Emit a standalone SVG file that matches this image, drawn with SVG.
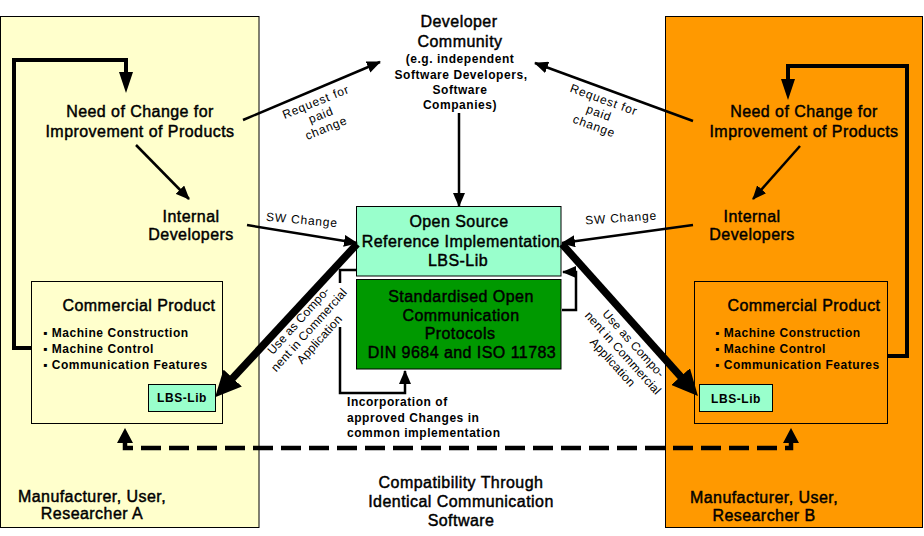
<svg xmlns="http://www.w3.org/2000/svg" width="924" height="536" viewBox="0 0 924 536">
<style>
text{font-family:"Liberation Sans",Arial,sans-serif;fill:#000}
.t{font-size:16px;letter-spacing:.45px;text-anchor:middle;stroke:#000;stroke-width:.45px}
.s{font-size:12px;font-weight:bold;letter-spacing:.55px}
.m{text-anchor:middle}
.r{font-size:12px;letter-spacing:.8px;text-anchor:middle}
.u{font-size:12px;letter-spacing:.2px;text-anchor:middle}
.b{stroke:#000;stroke-width:1}
.c{fill:none;stroke:#000;stroke-width:2.5}
.k{fill:none;stroke:#000;stroke-width:4}
.w{fill:none;stroke:#000;stroke-width:7.5}
.d{fill:none;stroke:#000;stroke-width:4.5;stroke-dasharray:20 8}
</style>
<defs>
<marker id="a" markerUnits="userSpaceOnUse" viewBox="0 0 14 12" markerWidth="14" markerHeight="12" refX="13" refY="6" orient="auto"><path d="M0,0L14,6L0,12z"/></marker>
<marker id="l" markerUnits="userSpaceOnUse" viewBox="0 0 21 14" markerWidth="21" markerHeight="14" refX="15" refY="7" orient="auto"><path d="M0,0L21,7L0,14z"/></marker>
<marker id="g" markerUnits="userSpaceOnUse" viewBox="0 0 26 25" markerWidth="26" markerHeight="25" refX="4" refY="12.5" orient="auto"><path d="M0,0L26,12.5L0,25z"/></marker>
<marker id="q" markerUnits="userSpaceOnUse" viewBox="0 0 15 16" markerWidth="15" markerHeight="16" refX="7" refY="8" orient="auto-start-reverse"><path d="M0,0L15,8L0,16z"/></marker>
</defs>

<g id="panelA">
<rect class="b" x="0.5" y="16.5" width="258.5" height="511" fill="#FFFFCC"/>
<text class="t" x="92" y="502">Manufacturer, User,</text>
<text class="t" x="92" y="519">Researcher A</text>
</g>
<g id="panelB">
<rect class="b" x="665.5" y="16.5" width="257" height="511" fill="#FF9900"/>
<text class="t" x="764" y="503">Manufacturer, User,</text>
<text class="t" x="764" y="521">Researcher B</text>
</g>

<g id="needA"><text class="t" x="140" y="117">Need of Change for</text><text class="t" x="140" y="137">Improvement of Products</text></g>
<g id="needB"><text class="t" x="804" y="117">Need of Change for</text><text class="t" x="804" y="137">Improvement of Products</text></g>
<g id="intA"><text class="t" x="191" y="222">Internal</text><text class="t" x="191" y="240">Developers</text></g>
<g id="intB"><text class="t" x="752" y="222">Internal</text><text class="t" x="752" y="240">Developers</text></g>

<g id="community">
<text class="t" x="459" y="27">Developer</text>
<text class="t" x="460" y="47">Community</text>
<text class="s m" x="460" y="63">(e.g. independent</text>
<text class="s m" x="461" y="79">Software Developers,</text>
<text class="s m" x="460" y="94">Software</text>
<text class="s m" x="460" y="109">Companies)</text>
</g>

<g id="productA">
<rect class="b" x="31.5" y="281.5" width="191" height="142" fill="#FFFFCC"/>
<text class="t" x="139" y="311">Commercial Product</text>
<text class="s" x="43" y="337">▪ Machine Construction</text>
<text class="s" x="43" y="353">▪ Machine Control</text>
<text class="s" x="43" y="369">▪ Communication Features</text>
</g>
<g id="libA">
<rect class="b" x="148.5" y="384.5" width="67" height="27" fill="#99FFCC"/>
<text class="s m" x="182" y="402">LBS-Lib</text>
</g>
<g id="productB">
<rect class="b" x="694.5" y="281.5" width="193" height="142" fill="#FF9900"/>
<text class="t" x="804" y="311">Commercial Product</text>
<text class="s" x="715" y="337">▪ Machine Construction</text>
<text class="s" x="715" y="353">▪ Machine Control</text>
<text class="s" x="715" y="369">▪ Communication Features</text>
</g>
<g id="libB">
<rect class="b" x="699.5" y="384.5" width="73" height="27" fill="#99FFCC"/>
<text class="s m" x="736" y="403">LBS-Lib</text>
</g>

<g id="openSource">
<rect class="b" x="356.5" y="206.5" width="204.5" height="69.5" fill="#99FFCC"/>
<text class="t" x="459" y="227">Open Source</text>
<text class="t" x="461" y="247">Reference Implementation</text>
<text class="t" x="458" y="266">LBS-Lib</text>
</g>
<g id="protocols">
<rect class="b" x="356.5" y="279.5" width="204.5" height="89.5" fill="#009900"/>
<text class="t" x="461" y="302">Standardised Open</text>
<text class="t" x="461" y="321">Communication</text>
<text class="t" x="460" y="339">Protocols</text>
<text class="t" x="462" y="358">DIN 9684 and ISO 11783</text>
</g>

<g id="compat">
<text class="t" x="461" y="488">Compatibility Through</text>
<text class="t" x="461" y="507">Identical Communication</text>
<text class="t" x="461" y="526">Software</text>
</g>

<g id="connectors">
<path class="k" d="M31,348H14V60H126V87" marker-end="url(#l)"/>
<path class="k" d="M887,356H907V66H788V94" marker-end="url(#l)"/>
<path class="c" d="M136,145L189,199" marker-end="url(#a)"/>
<path class="c" d="M800,146L753,199" marker-end="url(#a)"/>
<path class="c" d="M243,120L380,62" marker-end="url(#a)"/>
<path class="c" d="M693,121L535,63" marker-end="url(#a)"/>
<path class="c" d="M459,113V206" marker-end="url(#a)"/>
<path class="c" d="M247,225L357,243" marker-end="url(#a)"/>
<path class="c" d="M693,225L562,243" marker-end="url(#a)"/>
<path class="w" d="M357,244L230,381" marker-end="url(#g)"/>
<path class="w" d="M562,244L683.3,379.6" marker-end="url(#g)"/>
<path class="c" d="M357,270H340V283M340,327V393H405V371" marker-end="url(#a)"/>
<path class="c" d="M562,310H576V272H563" marker-end="url(#a)"/>
<path class="d" d="M125,436V448H791V436" marker-start="url(#q)" marker-end="url(#q)"/>
</g>

<g id="labels">
<g transform="translate(321,115) rotate(-22)"><text class="r" y="-10">Request for</text><text class="r" y="4">paid</text><text class="r" y="18">change</text></g>
<g transform="translate(599,113) rotate(20)"><text class="r" y="-10">Request for</text><text class="r" y="4">paid</text><text class="r" y="18">change</text></g>
<g transform="translate(302,220) rotate(5)"><text class="r" y="4">SW Change</text></g>
<g transform="translate(621,218) rotate(-4)"><text class="r" y="4">SW Change</text></g>
<g transform="translate(309,330) rotate(-48)"><text class="u" y="-10">Use as Compo-</text><text class="u" y="4">nent in Commercial</text><text class="u" y="18">Application</text></g>
<g transform="translate(623,353) rotate(48)"><text class="u" y="-10">Use as Compo-</text><text class="u" y="4">nent in Commercial</text><text class="u" y="18">Application</text></g>
<text class="s" x="347" y="406">Incorporation of</text>
<text class="s" x="347" y="422">approved Changes in</text>
<text class="s" x="347" y="437">common implementation</text>
</g>
</svg>
